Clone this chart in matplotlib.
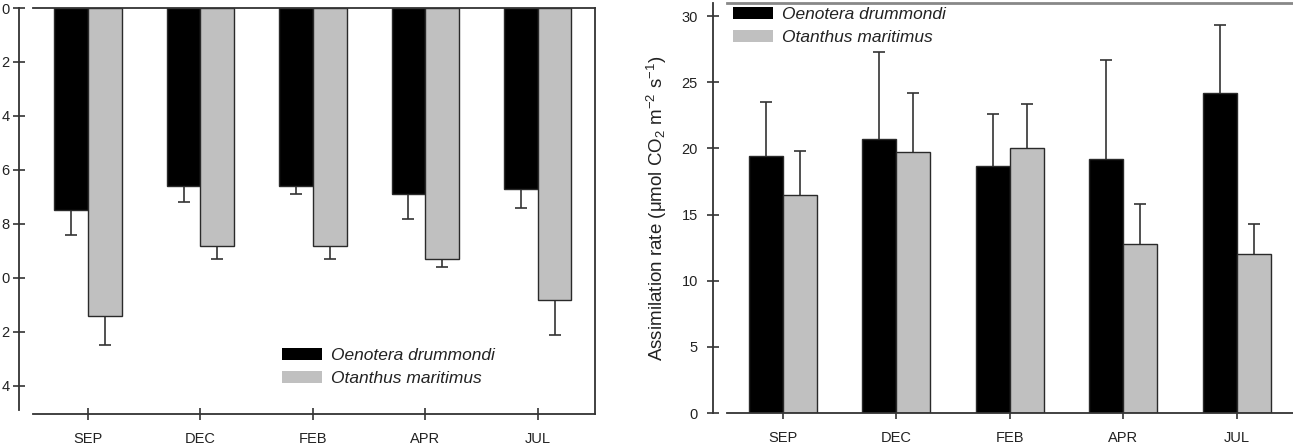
import matplotlib
matplotlib.use("Agg")
import matplotlib.pyplot as plt
from matplotlib.patches import Patch
import numpy as np

plt.rcParams['font.family'] = ['Liberation Sans', 'DejaVu Sans']
plt.rcParams['mathtext.fontset'] = 'custom'
plt.rcParams['mathtext.rm'] = 'Liberation Sans'
plt.rcParams['mathtext.it'] = 'Liberation Sans:italic'
plt.rcParams['mathtext.default'] = 'rm'

months = ["SEP", "DEC", "FEB", "APR", "JUL"]
species = ["Oenotera drummondi", "Otanthus maritimus"]

# Left panel (values plotted downward from 0)
left_oeno = [7.5, 6.6, 6.6, 6.9, 6.7]
left_oeno_err = [0.9, 0.6, 0.3, 0.9, 0.7]
left_otan = [11.4, 8.8, 8.8, 9.3, 10.8]
left_otan_err = [1.1, 0.5, 0.5, 0.3, 1.3]
left_yticks = [0, 2, 4, 6, 8, 10, 12, 14]
left_yticklabels = ["0", "2", "4", "6", "8", "0", "2", "4"]

# Right panel: assimilation rate
right_oeno = [19.4, 20.7, 18.7, 19.2, 24.2]
right_oeno_err = [4.1, 6.6, 3.9, 7.5, 5.1]
right_otan = [16.5, 19.7, 20.0, 12.8, 12.0]
right_otan_err = [3.3, 4.5, 3.4, 3.0, 2.3]
right_yticks = [0, 5, 10, 15, 20, 25, 30]

W, H = 1293, 448
fig = plt.figure(figsize=(W / 100, H / 100), dpi=100)

def frac(x0, y0, x1, y1):
    return [x0 / W, (H - y1) / H, (x1 - x0) / W, (y1 - y0) / H]

black = "#000000"
grey = "#c0c0c0"
edge = "#2a2a2a"
spc = "#333333"
bw = 0.3
x = np.arange(len(months))
tickfs = 10.5
legfs = 12.5

def bars(ax, a, ae, b, be):
    ax.bar(x - bw / 2, a, bw, color=black, edgecolor=edge, linewidth=1.0, zorder=2)
    ax.bar(x + bw / 2, b, bw, color=grey, edgecolor=edge, linewidth=1.0, zorder=2)
    z = [0] * len(a)
    for xs, v, e in ((x - bw / 2, a, ae), (x + bw / 2, b, be)):
        _, caps, _ = ax.errorbar(xs, v, yerr=[z, e], fmt='none', ecolor=spc,
                                 elinewidth=1.2, capsize=4.3, capthick=1.2, zorder=1)
        caps[0].set_visible(False)

def leg(ax, px, py):
    handles = [Patch(facecolor=black, edgecolor='none'),
               Patch(facecolor=grey, edgecolor='none')]
    lg = ax.legend(handles, species, loc='upper left',
                   bbox_to_anchor=(px / W, (H - py) / H), bbox_transform=fig.transFigure,
                   frameon=False, borderpad=0, borderaxespad=0, handlelength=2.3,
                   handleheight=0.7, handletextpad=0.55, labelspacing=0.45,
                   prop={'size': legfs, 'style': 'italic'})
    for t in lg.get_texts():
        t.set_color('#222222')

# ---------------- left panel ----------------
axL = fig.add_axes(frac(33, 8, 595, 414))
bars(axL, left_oeno, left_oeno_err, left_otan, left_otan_err)
axL.set_xlim(-0.49, 4.51)
axL.set_ylim(15.04, 0)
axL.set_yticks(left_yticks)
axL.set_yticklabels(left_yticklabels)
axL.set_xticks(x)
axL.set_xticklabels(months)
axL.spines['left'].set_position(('outward', 10))
axL.spines['left'].set_bounds(0, 14.88)
for s in axL.spines.values():
    s.set_color(spc)
    s.set_linewidth(1.3)
axL.tick_params(axis='both', direction='inout', length=8, width=1.2, color=spc,
                labelsize=tickfs, labelcolor='#222222')
axL.tick_params(axis='y', pad=3)
axL.tick_params(axis='x', pad=9)
leg(axL, 282, 348)

# ---------------- right panel ----------------
axR = fig.add_axes(frac(727, 3, 1296, 413))
bars(axR, right_oeno, right_oeno_err, right_otan, right_otan_err)
axR.set_xlim(-0.49, 4.52)
axR.set_ylim(0, 31.0)
axR.set_yticks(right_yticks)
axR.set_xticks(x)
axR.set_xticklabels(months)
axR.spines['left'].set_position(('outward', 10))
for s in axR.spines.values():
    s.set_color(spc)
    s.set_linewidth(1.3)
axR.spines['top'].set_color('#888888')
axR.spines['top'].set_linewidth(2.0)
axR.spines['right'].set_visible(False)
axR.tick_params(axis='both', direction='inout', length=8, width=1.2, color=spc,
                labelsize=tickfs, labelcolor='#222222')
axR.tick_params(axis='y', pad=7)
axR.tick_params(axis='x', pad=9)
axR.set_ylabel("Assimilation rate (μmol CO$_2$ m$^{-2}$ s$^{-1}$)", fontsize=13.5,
               color='#222222', labelpad=9)
leg(axR, 733, 7)

fig.savefig("out.png", dpi=100)
